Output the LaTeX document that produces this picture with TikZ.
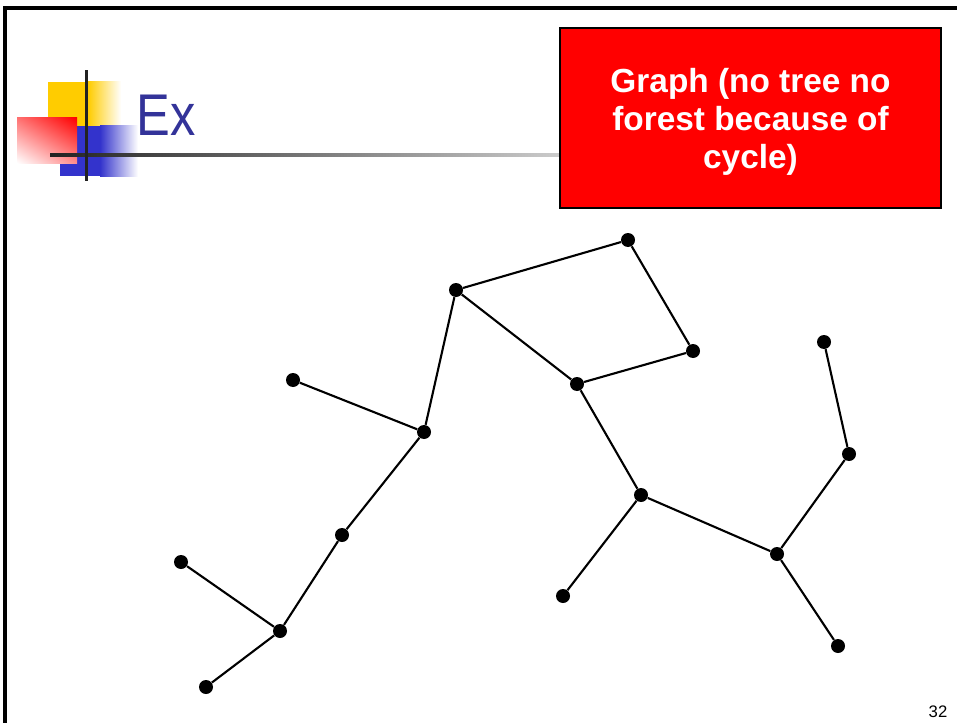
\documentclass[tikz,border=0pt]{standalone}
\usepackage{fontspec}
\setmainfont{Liberation Sans}
\newfontfamily\titlefont[FakeStretch=0.86]{Liberation Sans}
\usepackage{tikz}
\usetikzlibrary{positioning,shadings}
\definecolor{titleblue}{RGB}{51,51,153}
\definecolor{logoyellow}{RGB}{255,204,0}
\definecolor{logoblue}{RGB}{51,51,204}
\definecolor{barblack}{RGB}{34,34,34}
\definecolor{boxred}{RGB}{255,0,0}
\begin{document}
\begin{tikzpicture}[x=.02cm,y=-.02cm,
  vtx/.style={circle,fill=black,inner sep=0pt,minimum size=14*.02cm},
  edge/.style={black,line width=1.2pt}]
\useasboundingbox (0,0) rectangle (957,723);
\draw[black,line width=2pt] (5,723) -- (5,8) -- (957,8);
\begin{scope}
\fill[logoyellow] (48,82) rectangle (88,126);
\shade[left color=logoyellow,right color=white] (88,82) rectangle (121,126);
\fill[logoblue] (60,126) rectangle (100,176);
\shade[left color=logoblue,right color=white] (100,126) rectangle (138,176);
\shade[upper left=red!55!white,upper right=red,lower left=white,lower right=red!45!white] (17,118) rectangle (77,163);
\shade[left color=barblack,right color=black!20] (50,153.5) rectangle (562,156.5);
\fill[barblack] (84.5,70) rectangle (87.5,181);
\node[anchor=base west,inner sep=0pt,text=titleblue,font=\titlefont\fontsize{33.5}{40}\selectfont] (title) at (136,135){Ex};
\end{scope}
\node[draw=black,line width=1.2pt,fill=boxred,minimum width=381*.02cm,minimum height=180*.02cm] (note) at (750.5,118){};
\node[align=center,text=white,font=\fontsize{19}{21.5}\selectfont\bfseries,below=4*.02cm of note.center,anchor=center] (notetext) {Graph (no tree no\\forest because of\\cycle)};
\node[vtx] (a) at (628,240){}; \node[vtx] (b) at (456,290){};
\node[vtx] (c) at (693,351){}; \node[vtx] (d) at (577,384){};
\node[vtx] (e) at (293,380){}; \node[vtx] (f) at (424,432){};
\node[vtx] (g) at (824,342){}; \node[vtx] (h) at (849,454){};
\node[vtx] (i) at (641,495){}; \node[vtx] (j) at (342,535){};
\node[vtx] (k) at (181,562){}; \node[vtx] (l) at (777,554){};
\node[vtx] (m) at (563,596){}; \node[vtx] (n) at (280,631){};
\node[vtx] (o) at (838,646){}; \node[vtx] (p) at (206,687){};
\draw[edge] (b) -- (a) -- (c) -- (d) -- (b);
\draw[edge] (b) -- (f) -- (j) -- (n) -- (p);
\draw[edge] (e) -- (f); \draw[edge] (k) -- (n);
\draw[edge] (d) -- (i) -- (l) -- (h) -- (g);
\draw[edge] (i) -- (m); \draw[edge] (l) -- (o);
\node[font=\fontsize{9.5}{11}\selectfont] (pagenum) at (938,712){32};
\end{tikzpicture}
\end{document}
